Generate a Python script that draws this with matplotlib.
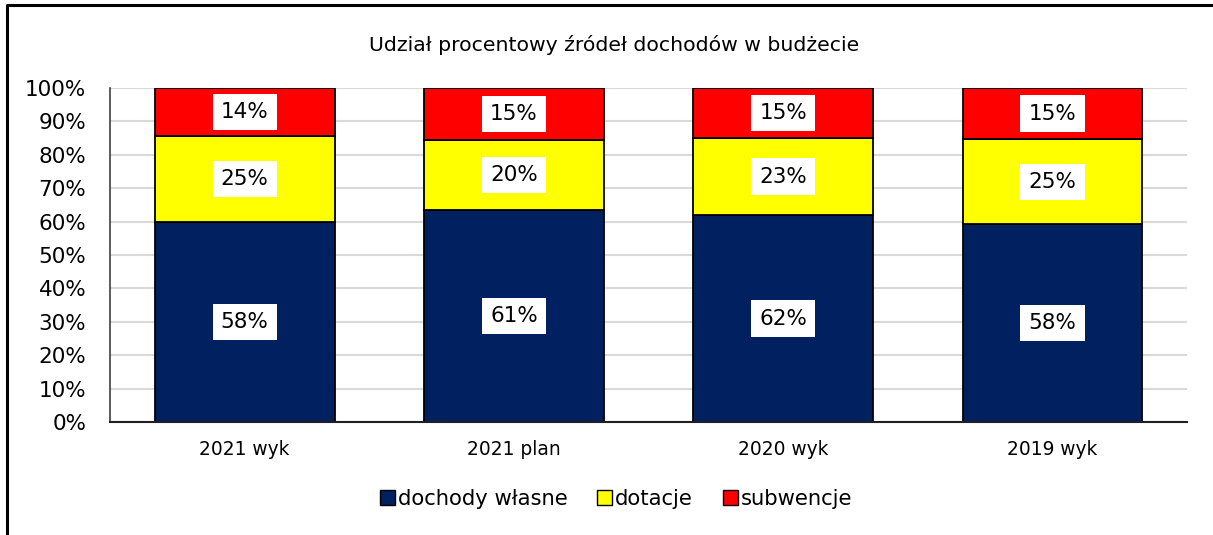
import matplotlib
matplotlib.use("Agg")
import matplotlib.pyplot as plt
from matplotlib.lines import Line2D
from matplotlib.patches import Patch
import numpy as np

categories = ["2021 wyk", "2021 plan", "2020 wyk", "2019 wyk"]
series_names = ["dochody własne", "dotacje", "subwencje"]
dochody_wlasne = [58, 61, 62, 58]
dotacje = [25, 20, 23, 25]
subwencje = [14, 15, 15, 15]
colors = ["#002060", "#FFFF00", "#FF0000"]
title = "Udział procentowy źródeł dochodów w budżecie"

plt.rcParams['font.family'] = ['DejaVu Sans']

fig = plt.figure(figsize=(12.13, 5.35), dpi=100)
ax = fig.add_axes([0.0907, 0.211, 0.888, 0.6245])

data = np.array([dochody_wlasne, dotacje, subwencje], dtype=float)
shares = data / data.sum(axis=0)  # 100% stacked
x = np.arange(len(categories))
bottom = np.zeros(len(categories))
for vals, share, name, col in zip(data, shares, series_names, colors):
    ax.bar(x, share, 0.668, bottom=bottom, color=col, edgecolor="black",
           linewidth=1.3, label=name, zorder=3)
    for xi, b, s, v in zip(x, bottom, share, vals):
        ax.text(xi, b + s / 2, f"{v:.0f}%", ha="center", va="center", fontsize=15.5,
                zorder=4, bbox=dict(boxstyle="square,pad=0.38", fc="white", ec="none"))
    bottom += share

ax.set_xlim(-0.5, len(categories) - 0.5)
ax.set_ylim(0, 1)
ticks = np.arange(0, 1.01, 0.1)
ax.set_yticks(ticks)
ax.set_yticklabels([f"{int(round(t*100))}%" for t in ticks], fontsize=15.5)
ax.set_xticks(x)
ax.set_xticklabels(categories, fontsize=13.4)
ax.tick_params(axis="both", length=0)
ax.tick_params(axis="x", pad=13)
ax.tick_params(axis="y", pad=17)
ax.grid(axis="y", color="#d9d9d9", linewidth=1.5, zorder=0)
for s in ["top", "right"]:
    ax.spines[s].set_visible(False)
ax.spines["left"].set_color("#404040")
ax.spines["bottom"].set_color("#202020")
ax.spines["left"].set_linewidth(1.2)
ax.spines["bottom"].set_linewidth(1.5)
ax.spines["bottom"].set_zorder(5)

fig.text(0.506, 0.916, title, ha="center", va="center", fontsize=14.7)

handles = [Patch(facecolor=c, edgecolor="black", linewidth=1.0) for c in colors]
fig.legend(handles, series_names, loc="center", bbox_to_anchor=(0.508, 0.067), ncol=3,
           frameon=False, fontsize=15.2, handlelength=0.7, handleheight=0.7,
           handletextpad=0.15, columnspacing=1.4)

# outer frame (left and top edges of the chart box)
fig.add_artist(Line2D([7 / 1213, 7 / 1213, 1.0], [0.0, 1 - 5 / 535, 1 - 5 / 535],
                      transform=fig.transFigure, color="black", linewidth=2.2))

fig.savefig("out.png", dpi=100)
